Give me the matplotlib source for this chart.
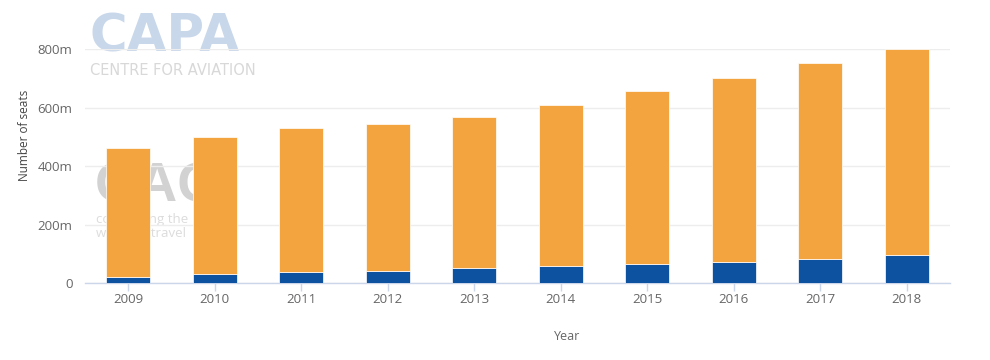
import matplotlib
matplotlib.use("Agg")
import matplotlib.pyplot as plt
from matplotlib.ticker import FixedLocator, FuncFormatter

years = ["2009", "2010", "2011", "2012", "2013", "2014", "2015", "2016", "2017", "2018"]
blue_seats = [21, 32, 37, 43, 51, 58, 67, 72, 82, 98]
orange_seats = [443, 468, 493, 502, 518, 552, 590, 629, 670, 702]
y_ticks = [0, 200, 400, 600, 800]

ORANGE = "#F4A43F"
BLUE = "#0C52A1"
GRID = "#EDEDED"
TEXT = "#666666"

plt.rcParams['font.family'] = ['Open Sans', 'DejaVu Sans']

fig = plt.figure(figsize=(9.9, 3.6), dpi=100)
ax = fig.add_axes([85/990, 1 - 283.3/360, 865/990, (283.3 - 49.3)/360])

# watermarks (behind bars)
fig.text(89/990, 1 - 52/360, "CAPA", fontsize=37, fontweight='bold', color="#C8D7EA",
         family=['DejaVu Sans'], ha='left', va='baseline', zorder=0)
fig.text(90/990, 1 - 75/360, "CENTRE FOR AVIATION", fontsize=10.5, color="#D8D8D8",
         ha='left', va='baseline', zorder=0, family=['DejaVu Sans'])
fig.text(95/990, 1 - 201/360, "OAG", fontsize=40, color="#D2D2D2", fontweight='bold',
         ha='left', va='baseline', zorder=0,
         family=['Liberation Sans Narrow', 'Liberation Sans', 'DejaVu Sans'])
fig.text(96/990, 1 - 223/360, "connecting the", fontsize=9.5, color="#DCDCDC",
         ha='left', va='baseline', zorder=0)
fig.text(96/990, 1 - 237/360, "world of travel", fontsize=9.5, color="#DCDCDC",
         ha='left', va='baseline', zorder=0)
ax.set_zorder(1)
ax.patch.set_alpha(0)

x = list(range(len(years)))
ax.bar(x, blue_seats, width=0.51, color=BLUE, zorder=3, edgecolor='white', linewidth=0.5)
ax.bar(x, orange_seats, bottom=blue_seats, width=0.51, color=ORANGE, zorder=3,
       edgecolor='white', linewidth=0.5)

ax.set_xlim(-0.5, len(years) - 0.5)
ax.set_ylim(0, 800)
ax.yaxis.set_major_locator(FixedLocator(y_ticks))
ax.yaxis.set_major_formatter(FuncFormatter(lambda v, p: "0" if v == 0 else f"{int(v)}m"))
ax.grid(axis='y', color=GRID, linewidth=1, zorder=0)
ax.set_axisbelow(True)
for s in ['top', 'right', 'left']:
    ax.spines[s].set_visible(False)
ax.spines['bottom'].set_color("#CCD6EB")
ax.spines['bottom'].set_linewidth(1)
ax.set_xticks(x)
ax.set_xticklabels(years)
ax.tick_params(axis='x', colors="#CCD6EB", length=6, width=1, labelcolor=TEXT,
               labelsize=9.5, pad=1)
ax.tick_params(axis='y', length=0, labelcolor=TEXT, labelsize=9.5, pad=9)

fig.text(25/990, 1 - 135/360, "Number of seats", rotation=90, fontsize=8.5, color="#444444",
         ha='center', va='center')
fig.text(567/990, 1 - 337/360, "Year", fontsize=9, color=TEXT, ha='center', va='center')

fig.savefig("out.png", dpi=100)
